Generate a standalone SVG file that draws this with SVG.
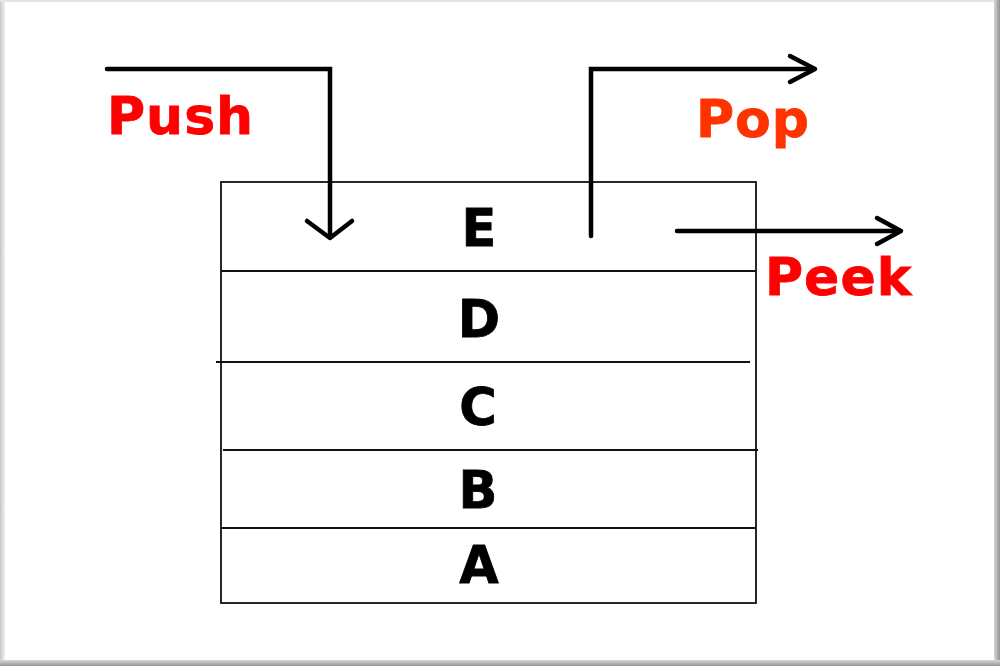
<svg xmlns="http://www.w3.org/2000/svg" width="1000" height="666" viewBox="0 0 1000 666">
  <defs>
    <linearGradient id="lg" x1="0" x2="1" y1="0" y2="0">
      <stop offset="0" stop-color="#c8c8c8"/>
      <stop offset="1" stop-color="#f2f2f2"/>
    </linearGradient>
    <linearGradient id="rg" x1="0" x2="1" y1="0" y2="0">
      <stop offset="0" stop-color="#d8d8d8"/>
      <stop offset="1" stop-color="#939393"/>
    </linearGradient>
    <linearGradient id="bg" x1="0" x2="0" y1="0" y2="1">
      <stop offset="0" stop-color="#d8d8d8"/>
      <stop offset="1" stop-color="#939393"/>
    </linearGradient>
  </defs>
  <style>
    .frame{fill:none;stroke:#111;stroke-width:1.8}
    .row{stroke:#111;stroke-width:1.8}
    .conn{fill:none;stroke:#000;stroke-width:4.5;stroke-linecap:round;stroke-linejoin:miter}
    .head{fill:none;stroke:#000;stroke-width:4.5;stroke-linecap:round;stroke-linejoin:round}
    .lbl{font-family:"DejaVu Sans",Verdana,sans-serif;font-weight:bold;font-size:52px;stroke-width:0.8}
    .item{font-family:"DejaVu Sans",Verdana,sans-serif;font-weight:bold;font-size:51px;fill:#000;stroke:#000;stroke-width:0.8;text-anchor:middle}
  </style>
  <rect x="0" y="0" width="1000" height="666" fill="#ffffff"/>
  <rect x="0" y="0" width="5" height="666" fill="url(#lg)"/>
  <rect x="0" y="0" width="1000" height="2" fill="#e4e4e4"/>
  <rect x="994" y="0" width="6" height="666" fill="url(#rg)"/>
  <rect x="0" y="660" width="1000" height="6" fill="url(#bg)"/>

  <g id="stack">
    <rect class="frame" x="221" y="182" width="535" height="421"/>
    <line class="row" x1="221" y1="271" x2="756" y2="271"/>
    <line class="row" x1="216" y1="362" x2="750" y2="362"/>
    <line class="row" x1="223" y1="450" x2="758" y2="450"/>
    <line class="row" x1="221" y1="528" x2="756" y2="528"/>
  </g>
  <g id="item-E"><text class="item" x="479" y="246">E</text></g>
  <g id="item-D"><text class="item" x="479" y="337">D</text></g>
  <g id="item-C"><text class="item" x="478" y="425">C</text></g>
  <g id="item-B"><text class="item" x="478" y="508">B</text></g>
  <g id="item-A"><text class="item" x="479" y="583">A</text></g>

  <g id="connectors">
    <polyline class="conn" points="107,69 330,69 330,237"/>
    <polyline class="head" points="307,221 330,238 352,221"/>
    <polyline class="conn" points="591,236 591,69 814,69"/>
    <polyline class="head" points="790,56 815,69 790,82"/>
    <line class="conn" x1="677" y1="231" x2="900" y2="231"/>
    <polyline class="head" points="877,218 901,231 877,244"/>
  </g>

  <g id="label-push"><text class="lbl" x="107" y="134" fill="#ff0000" stroke="#ff0000" letter-spacing="1">Push</text></g>
  <g id="label-pop"><text class="lbl" x="696" y="137" fill="#ff3300" stroke="#ff3300" letter-spacing="1">Pop</text></g>
  <g id="label-peek"><text class="lbl" x="765" y="295" fill="#ff0000" stroke="#ff0000" letter-spacing="1">Peek</text></g>
</svg>
